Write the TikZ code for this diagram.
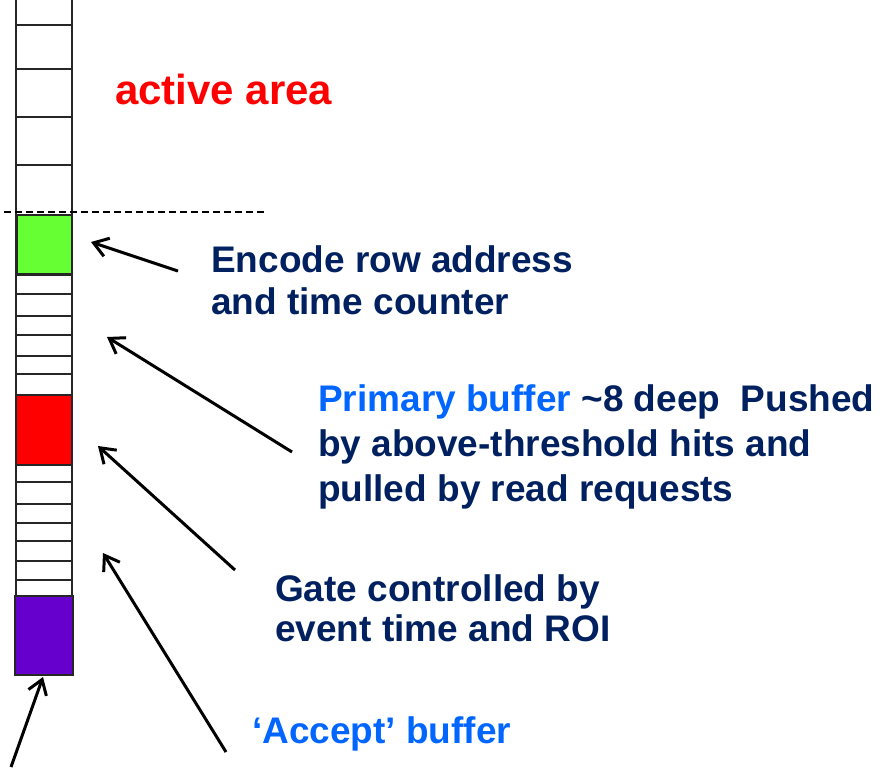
\documentclass[tikz,border=0pt]{standalone}
\usepackage{fontspec}
\setmainfont{Liberation Sans}
\usetikzlibrary{arrows.meta}
\definecolor{navytext}{RGB}{0,32,96}
\definecolor{lightblue}{RGB}{0,102,255}
\definecolor{encgreen}{RGB}{102,255,51}
\definecolor{acceptpurple}{RGB}{102,0,204}

\begin{document}
\begin{tikzpicture}[x=1pt,y=-1pt,
    pointer/.style={-{Straight Barb[length=14pt,width=19pt,line width=3pt]},line width=3pt},
    cellline/.style={line width=2pt,draw=black!85},
    cellbox/.style={draw=black!85,line width=2pt,inner sep=0pt},
    caption/.style={inner sep=0pt,anchor=north west,align=left,text=navytext,font=\bfseries}]

  \useasboundingbox (0,0) rectangle (880,768);

  % column of pixel cells
  \draw[cellline] (16,0) -- (16,596);
  \draw[cellline] (72,0) -- (72,596);
  \foreach \y in {25,69,117,165,275,294,316,335,356,374,482,504,523,541,561,580}
    \draw[cellline] (16,\y) -- (72,\y);
  \draw[dashed,line width=1.5pt,dash pattern=on 7pt off 4pt] (4,212) -- (265,212);

  \node[cellbox,fill=encgreen,minimum width=55pt,minimum height=59pt]     (encbox)    at (44.5,244.5) {};
  \node[cellbox,fill=red,minimum width=56pt,minimum height=70pt]          (gatebox)   at (44,430) {};
  \node[cellbox,fill=acceptpurple,minimum width=58pt,minimum height=79pt] (acceptbox) at (44,635.5) {};

  % labels
  \node[inner sep=0pt,anchor=base west,text=red,font=\fontsize{42}{48}\selectfont\bfseries] (active) at (115,104) {active area};
  \node[caption,font=\fontsize{37}{42}\selectfont\bfseries] (encode) at (211,245) {Encode row address\\and time counter};
  \node[caption,font=\fontsize{37}{45}\selectfont\bfseries] (primary) at (318,384)
    {\textcolor{lightblue}{Primary buffer} \textasciitilde 8 deep\ \ Pushed\\by above-threshold hits and\\pulled by read requests};
  \node[caption,font=\fontsize{37}{40}\selectfont\bfseries] (gate) at (275,574) {Gate controlled by\\event time and ROI};
  \node[inner sep=0pt,anchor=base west,text=lightblue,font=\fontsize{37}{42}\selectfont\bfseries] (accept) at (252,743) {`Accept' buffer};

  % arrow ends
  \coordinate (encfrom)  at (178,271);  \coordinate (encto)  at (91,242);
  \coordinate (primfrom) at (292,452);  \coordinate (primto) at (107,337);
  \coordinate (gatefrom) at (235,570);  \coordinate (gateto) at (98,446);
  \coordinate (accfrom)  at (226,752);  \coordinate (accto)  at (103,553);
  \coordinate (outfrom)  at (11,767);   \coordinate (outto)  at (43,677);

  \path (encfrom)  edge[pointer] (encto)
        (primfrom) edge[pointer] (primto)
        (gatefrom) edge[pointer] (gateto)
        (accfrom)  edge[pointer] (accto)
        (outfrom)  edge[pointer] (outto);
\end{tikzpicture}
\end{document}
